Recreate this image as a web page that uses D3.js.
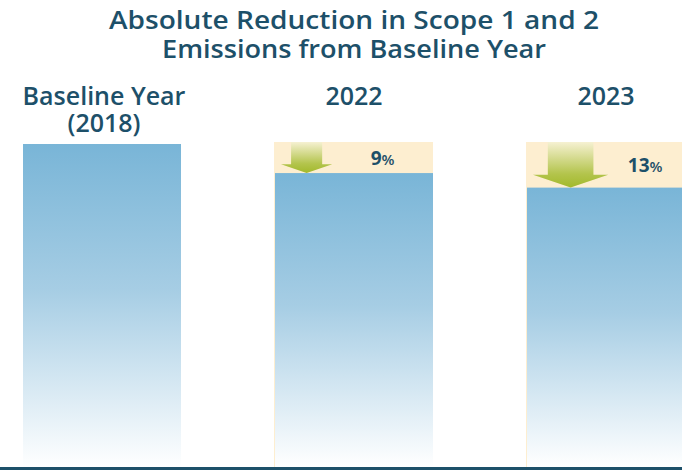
<!DOCTYPE html>
<html>
<head>
<meta charset="utf-8">
<script src="https://cdn.jsdelivr.net/npm/d3@7"></script>
<style>
  body { margin: 0; background: #fff; }
  svg { display: block; font-family: "Open Sans", Lato, sans-serif; }
</style>
</head>
<body>
<svg id="chart"></svg>
<script>
// values
const categories = ['Baseline Year (2018)', '2022', '2023']
const labelLines = [['Baseline Year', '(2018)'], ['2022'], ['2023']]
const emissions = [100, 91, 86.5]        // index, baseline = 100
const reductions = [null, '9', '13']     // percent labels
const titleLines = ['Absolute Reduction in Scope 1 and 2', 'Emissions from Baseline Year']

const width = 682, height = 470
const margin = {top: 144, left: 23, right: -3, bottom: 3}
const dark = '#1d5069'

const svg = d3.select('#chart').attr('width', width).attr('height', height)

const defs = svg.append('defs')
const barGrad = defs.append('linearGradient').attr('id', 'barGrad')
  .attr('x1', 0).attr('y1', 0).attr('x2', 0).attr('y2', 1)
barGrad.append('stop').attr('offset', '0%').attr('stop-color', '#79b5d7')
barGrad.append('stop').attr('offset', '45%').attr('stop-color', '#a6cde4')
barGrad.append('stop').attr('offset', '100%').attr('stop-color', '#ffffff')

const arrowGrad = defs.append('linearGradient').attr('id', 'arrowGrad')
  .attr('x1', 0).attr('y1', 0).attr('x2', 0).attr('y2', 1)
arrowGrad.append('stop').attr('offset', '0%').attr('stop-color', '#f6f1d2')
arrowGrad.append('stop').attr('offset', '70%').attr('stop-color', '#b3c44c')
arrowGrad.append('stop').attr('offset', '100%').attr('stop-color', '#a2b92b')

const x = d3.scaleBand().domain(categories)
  .range([margin.left, width - margin.right])
  .paddingInner(0.373).paddingOuter(0)
const y = d3.scaleLinear().domain([0, 100])
  .range([height - margin.bottom, margin.top])

// title, one text per line
svg.selectAll('text.title').data(titleLines).enter()
  .append('text')
  .attr('class', 'title')
  .attr('x', 354)
  .attr('y', (d, i) => 29 + i * 29)
  .attr('text-anchor', 'middle')
  .attr('font-size', 26).attr('font-weight', 600)
  .attr('fill', dark)
  .attr('textLength', (d, i) => i === 0 ? 490 : 384)
  .attr('lengthAdjust', 'spacingAndGlyphs')
  .text(d => d)

const g = svg.append('g')

// highlight boxes behind the reduced bars
categories.forEach((c, i) => {
  if (!reductions[i]) return
  g.append('rect')
    .attr('x', x(c) - 1)
    .attr('y', y(100) - 2)
    .attr('width', x.bandwidth() + 1)
    .attr('height', y(0) - y(100) + 2)
    .attr('fill', '#fdeed0')
})

// bars
g.selectAll('rect.bar').data(categories).enter()
  .append('rect')
  .attr('class', 'bar')
  .attr('x', d => x(d))
  .attr('y', (d, i) => y(emissions[i]))
  .attr('width', x.bandwidth())
  .attr('height', (d, i) => y(0) - y(emissions[i]))
  .attr('fill', 'url(#barGrad)')

// category labels
categories.forEach((c, i) => {
  labelLines[i].forEach((line, j) => {
    svg.append('text')
      .attr('x', x(c) + x.bandwidth() / 2 + (i === 0 ? 2 : 0))
      .attr('y', 105 + j * 27)
      .attr('text-anchor', 'middle')
      .attr('font-size', 25).attr('font-weight', 600)
      .attr('fill', dark)
      .text(line)
  })
})

// reduction arrows and percent labels
categories.forEach((c, i) => {
  if (!reductions[i]) return
  const top = y(100) - 2
  const tip = y(emissions[i])
  const h = tip - top
  const shaftW = h
  const headW = h * 1.65
  const headH = h * 0.28
  const cx = x(c) + 6 + headW / 2
  const pts = [
    [cx - shaftW / 2, top],
    [cx + shaftW / 2, top],
    [cx + shaftW / 2, tip - headH],
    [cx + headW / 2, tip - headH],
    [cx, tip],
    [cx - headW / 2, tip - headH],
    [cx - shaftW / 2, tip - headH]
  ]
  g.append('path')
    .attr('d', d3.line()(pts) + 'Z')
    .attr('fill', 'url(#arrowGrad)')

  const right = x(c) + x.bandwidth()
  const lx = ((cx + headW / 2) + Math.min(right, width)) / 2
  const lbl = g.append('text')
    .attr('x', lx).attr('y', (top + tip) / 2 + 7)
    .attr('text-anchor', 'middle')
    .attr('font-weight', 700)
    .attr('fill', dark)
  lbl.append('tspan').attr('font-size', 19).text(reductions[i])
  lbl.append('tspan').attr('font-size', 15).attr('font-weight', 600).text('%')
})

// baseline
svg.append('rect')
  .attr('x', 0).attr('y', y(0))
  .attr('width', width).attr('height', 3)
  .attr('fill', dark)
</script>
</body>
</html>
